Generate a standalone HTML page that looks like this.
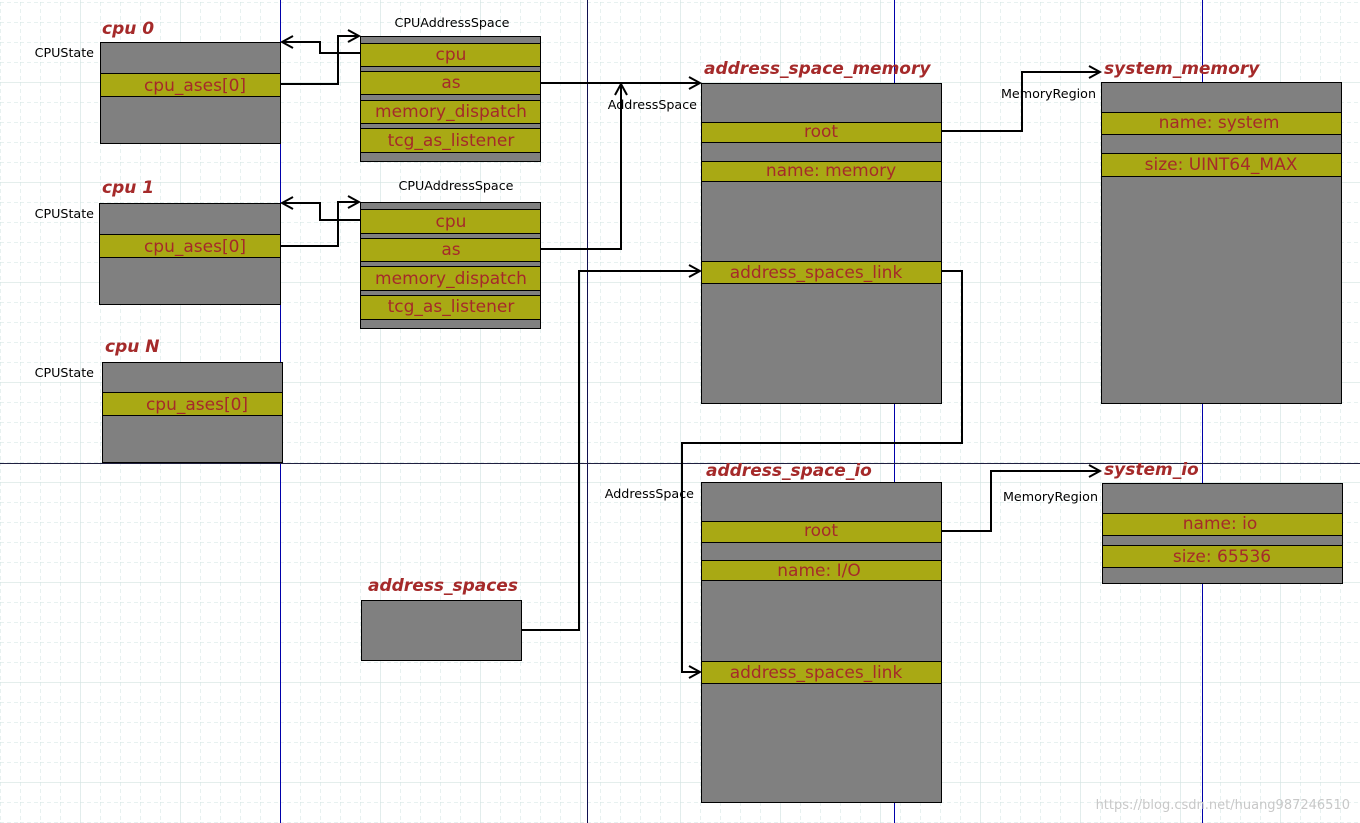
<!DOCTYPE html>
<html><head><meta charset="utf-8"><style>
html,body{margin:0;padding:0;background:#fff;}
svg{display:block;font-family:"DejaVu Sans","Liberation Sans",sans-serif;}
.t{font-weight:bold;font-style:italic;font-size:17px;fill:#a52a2a;}
.f{font-size:17px;fill:#a52a2a;text-anchor:middle;}
.l{font-size:12.7px;fill:#000;text-anchor:end;}
.g{fill:#808080;stroke:#000;stroke-width:1;}
.y{fill:#a9a914;stroke:#000;stroke-width:1;}
.c{fill:none;stroke:#000;stroke-width:2;}
</style></head><body>
<svg width="1360" height="823" viewBox="0 0 1360 823" xmlns="http://www.w3.org/2000/svg">
<defs>
<pattern id="mn" width="20" height="20" patternUnits="userSpaceOnUse" x="0" y="2">
<path d="M0 0H20M0 0V20" stroke="#cfe3e0" stroke-width="1" stroke-dasharray="4,3" fill="none"/>
</pattern>
<pattern id="mj" width="100" height="100" patternUnits="userSpaceOnUse" x="80" y="82">
<path d="M0 0H100M0 0V100" stroke="#d3e3e1" stroke-width="1.3" fill="none"/>
</pattern>
<marker id="a" markerWidth="14" markerHeight="14" refX="12" refY="7" orient="auto" markerUnits="userSpaceOnUse">
<path d="M1 1L12 7L1 13" fill="none" stroke="#000" stroke-width="2"/>
</marker>
</defs>
<rect width="1360" height="823" fill="url(#mn)"/>
<rect width="1360" height="823" fill="url(#mj)"/>
<g stroke="#0000aa" stroke-width="1">
<line x1="280.5" y1="0" x2="280.5" y2="823"/>
<line x1="587.5" y1="0" x2="587.5" y2="823" stroke="#101050"/>
<line x1="894.5" y1="0" x2="894.5" y2="823"/>
<line x1="1202.5" y1="0" x2="1202.5" y2="823"/>
<line x1="0" y1="463.5" x2="1360" y2="463.5" stroke="#202040"/>
</g>

<text class="t" x="102" y="34">cpu 0</text>
<text class="l" x="94" y="57">CPUState</text>
<rect class="g" x="100.5" y="42.5" width="180" height="101"/>
<rect class="y" x="100.5" y="73.5" width="180" height="23"/>
<text class="f" x="195" y="91">cpu_ases[0]</text>

<text class="t" x="102" y="193">cpu 1</text>
<text class="l" x="94" y="218">CPUState</text>
<rect class="g" x="99.5" y="203.5" width="181" height="101"/>
<rect class="y" x="99.5" y="234.5" width="181" height="23"/>
<text class="f" x="195" y="252">cpu_ases[0]</text>

<text class="t" x="105" y="352">cpu N</text>
<text class="l" x="94" y="377">CPUState</text>
<rect class="g" x="102.5" y="362.5" width="180" height="100"/>
<rect class="y" x="102.5" y="392.5" width="180" height="23"/>
<text class="f" x="197" y="410">cpu_ases[0]</text>

<text x="452" y="27" font-size="12.7" text-anchor="middle">CPUAddressSpace</text>
<rect class="g" x="360.5" y="36.5" width="180" height="125"/>
<rect class="y" x="360.5" y="43.5" width="180" height="23"/>
<rect class="y" x="360.5" y="71.5" width="180" height="23"/>
<rect class="y" x="360.5" y="100.5" width="180" height="23"/>
<rect class="y" x="360.5" y="128.5" width="180" height="24"/>
<text class="f" x="451" y="60">cpu</text>
<text class="f" x="451" y="88">as</text>
<text class="f" x="451" y="117">memory_dispatch</text>
<text class="f" x="451" y="146">tcg_as_listener</text>

<text x="456" y="190" font-size="12.7" text-anchor="middle">CPUAddressSpace</text>
<rect class="g" x="360.5" y="202.5" width="180" height="126"/>
<rect class="y" x="360.5" y="209.5" width="180" height="24"/>
<rect class="y" x="360.5" y="238.5" width="180" height="23"/>
<rect class="y" x="360.5" y="266.5" width="180" height="24"/>
<rect class="y" x="360.5" y="295.5" width="180" height="24"/>
<text class="f" x="451" y="227">cpu</text>
<text class="f" x="451" y="255">as</text>
<text class="f" x="451" y="284">memory_dispatch</text>
<text class="f" x="451" y="312">tcg_as_listener</text>

<text class="t" x="368" y="591">address_spaces</text>
<rect class="g" x="361.5" y="600.5" width="160" height="60"/>

<text class="t" x="704" y="74">address_space_memory</text>
<text class="l" x="697" y="109">AddressSpace</text>
<rect class="g" x="701.5" y="83.5" width="240" height="320"/>
<rect class="y" x="701.5" y="122.5" width="240" height="20"/>
<rect class="y" x="701.5" y="161.5" width="240" height="20"/>
<rect class="y" x="701.5" y="261.5" width="240" height="22"/>
<text class="f" x="821" y="137">root</text>
<text class="f" x="831" y="176">name: memory</text>
<text class="f" x="816" y="278">address_spaces_link</text>

<text class="t" x="1104" y="74">system_memory</text>
<text class="l" x="1096" y="98">MemoryRegion</text>
<rect class="g" x="1101.5" y="82.5" width="240" height="321"/>
<rect class="y" x="1101.5" y="112.5" width="240" height="22"/>
<rect class="y" x="1101.5" y="153.5" width="240" height="23"/>
<text class="f" x="1219" y="128">name: system</text>
<text class="f" x="1221" y="170">size: UINT64_MAX</text>

<text class="t" x="706" y="476">address_space_io</text>
<text class="l" x="694" y="498">AddressSpace</text>
<rect class="g" x="701.5" y="482.5" width="240" height="320"/>
<rect class="y" x="701.5" y="521.5" width="240" height="21"/>
<rect class="y" x="701.5" y="560.5" width="240" height="20"/>
<rect class="y" x="701.5" y="661.5" width="240" height="22"/>
<text class="f" x="821" y="536">root</text>
<text class="f" x="819" y="576">name: I/O</text>
<text class="f" x="816" y="678">address_spaces_link</text>

<text class="t" x="1104" y="475">system_io</text>
<text class="l" x="1098" y="501">MemoryRegion</text>
<rect class="g" x="1102.5" y="483.5" width="240" height="100"/>
<rect class="y" x="1102.5" y="513.5" width="240" height="22"/>
<rect class="y" x="1102.5" y="545.5" width="240" height="22"/>
<text class="f" x="1220" y="529">name: io</text>
<text class="f" x="1222" y="562">size: 65536</text>

<polyline class="c" points="360,53 320,53 320,42 282,42" marker-end="url(#a)"/>
<polyline class="c" points="280,84 338,84 338,36 359,36" marker-end="url(#a)"/>
<polyline class="c" points="360,220 320,220 320,203 282,203" marker-end="url(#a)"/>
<polyline class="c" points="280,246 338,246 338,202 359,202" marker-end="url(#a)"/>
<polyline class="c" points="540,83 700,83" marker-end="url(#a)"/>
<polyline class="c" points="540,249 621,249 621,84" marker-end="url(#a)"/>
<polyline class="c" points="521,630 579,630 579,271 700,271" marker-end="url(#a)"/>
<polyline class="c" points="941,271 962,271 962,443 682,443 682,672 700,672" marker-end="url(#a)"/>
<polyline class="c" points="941,131 1022,131 1022,72 1100,72" marker-end="url(#a)"/>
<polyline class="c" points="941,531 991,531 991,471 1100,471" marker-end="url(#a)"/>

<text x="1350" y="809" font-size="13" fill="#c8c8c8" text-anchor="end">https://blog.csdn.net/huang987246510</text>
</svg>
</body></html>
